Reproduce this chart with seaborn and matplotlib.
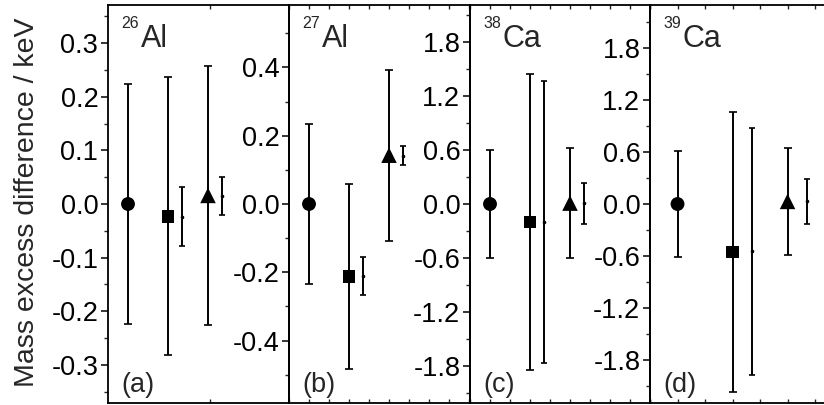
import matplotlib
matplotlib.use("Agg")
import matplotlib.pyplot as plt
import seaborn as sns
import pandas as pd
from matplotlib.ticker import MultipleLocator, FixedLocator, NullFormatter, FuncFormatter

# ---------------- data ----------------
positions = [1, 3, 3.7, 5, 5.7]
kinds = ["circle", "square", "bar", "triangle", "bar"]

mass_numbers = ["26", "27", "38", "39"]
elements = ["Al", "Al", "Ca", "Ca"]
panel_tags = ["(a)", "(b)", "(c)", "(d)"]

al26_values = [0.0, -0.023, -0.024, 0.016, 0.015]
al26_errors = [0.223, 0.259, 0.055, 0.241, 0.035]
al27_values = [0.0, -0.212, -0.211, 0.143, 0.142]
al27_errors = [0.233, 0.270, 0.056, 0.250, 0.029]
ca38_values = [0.0, -0.200, -0.200, 0.010, 0.007]
ca38_errors = [0.600, 1.648, 1.568, 0.610, 0.226]
ca39_values = [0.0, -0.552, -0.548, 0.030, 0.030]
ca39_errors = [0.610, 1.617, 1.432, 0.615, 0.258]

values = [al26_values, al27_values, ca38_values, ca39_values]
errors = [al26_errors, al27_errors, ca38_errors, ca39_errors]

y_limits = [0.371, 0.583, 2.214, 2.30]
y_major = [0.1, 0.2, 0.6, 0.6]
y_minor = [0.05, 0.1, 0.3, 0.3]
x_limits = [9.05, 9.05, 9.0, 6.47]

# ---------------- style ----------------
sns.set_theme(style="ticks")
plt.rcParams["font.family"] = ["Liberation Sans", "DejaVu Sans"]
plt.rcParams["axes.unicode_minus"] = False

W, H = 824, 405
fig = plt.figure(figsize=(W / 100, H / 100), dpi=100)

lefts = [108, 289, 470, 650]
rights = [289, 470, 650, 828]   # last panel is cut off at the right image edge
top_px, bot_px = 5, 403

marker_map = {"circle": "o", "square": "s", "triangle": "^"}
size_map = {"circle": 100, "square": 80, "triangle": 125}

for i in range(4):
    l, r = lefts[i], rights[i]
    ax = fig.add_axes([l / W, 1 - bot_px / H, (r - l) / W, (bot_px - top_px) / H])
    ax.set_facecolor("none")
    df = pd.DataFrame({"x": positions, "y": values[i], "err": errors[i], "kind": kinds})

    # error bars
    for _, row in df.iterrows():
        if row["kind"] == "bar":
            ax.errorbar(row["x"], row["y"], yerr=row["err"], fmt="o", ms=1.6,
                        color="black", ecolor="black", elinewidth=1.4,
                        capsize=2.3, capthick=1.2, zorder=2)
        else:
            ax.errorbar(row["x"], row["y"], yerr=row["err"], fmt="none",
                        ecolor="black", elinewidth=1.4, capsize=3.0,
                        capthick=1.2, zorder=2)

    marks = df[df["kind"] != "bar"]
    sns.scatterplot(data=marks, x="x", y="y", style="kind", size="kind",
                    markers=marker_map, sizes=size_map, color="black",
                    edgecolor="black", linewidth=0, legend=False, ax=ax, zorder=3)

    lim = y_limits[i]
    ax.set_ylim(-lim, lim)
    ax.set_xlim(0, x_limits[i])
    ax.yaxis.set_major_locator(MultipleLocator(y_major[i]))
    ax.yaxis.set_minor_locator(MultipleLocator(y_minor[i]))
    ax.yaxis.set_major_formatter(FuncFormatter(
        lambda v, p: "{:.1f}".format(0.0 if abs(v) < 1e-9 else v)))
    ax.tick_params(axis="y", which="major", direction="out", length=5, width=1.1,
                   labelsize=19.5, pad=2, colors="black")
    ax.tick_params(axis="y", which="minor", direction="out", length=3, width=1.0)

    if i == 0:
        ax.xaxis.set_major_locator(FixedLocator([5.1]))
    else:
        ax.xaxis.set_major_locator(MultipleLocator(1))
    ax.xaxis.set_major_formatter(NullFormatter())
    ax.tick_params(axis="x", which="major", direction="in", length=3, width=1.0,
                   top=True, bottom=True)
    ax.set_xlabel("")
    ax.set_ylabel("")
    for s in ax.spines.values():
        s.set_linewidth(1.3)
        s.set_color("black")

    # nuclide label: small mass number + element symbol
    fig.text((l + 13) / W, 1 - 28 / H, mass_numbers[i], ha="left", va="baseline",
             fontsize=11.5)
    fig.text((l + 33) / W, 1 - 47 / H, elements[i], ha="left", va="baseline",
             fontsize=22)
    fig.text((l + 13) / W, 1 - 392 / H, panel_tags[i], ha="left", va="baseline",
             fontsize=19.5)

fig.text(27 / W, 0.5, "Mass excess difference / keV", rotation=90, ha="center",
         va="center", fontsize=20.5)

fig.savefig("out.png", dpi=100)
